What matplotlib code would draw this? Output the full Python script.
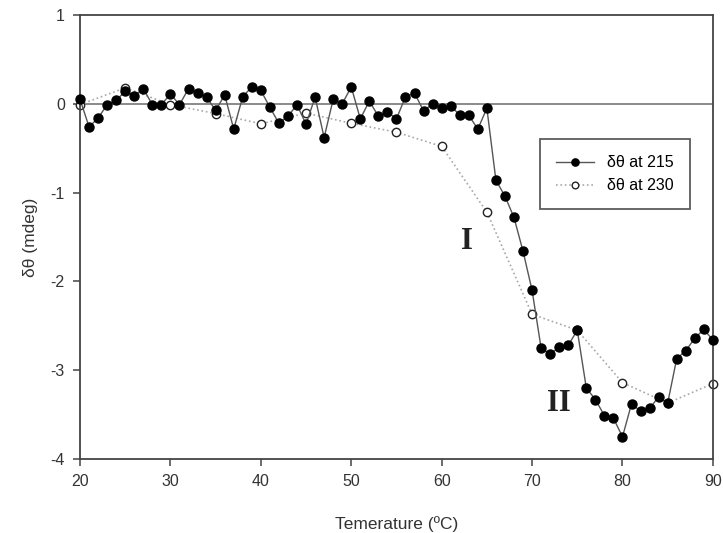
import matplotlib
matplotlib.use("Agg")
import matplotlib.pyplot as plt

plt.rcParams['font.family'] = ['Liberation Sans', 'DejaVu Sans']
plt.rcParams['axes.unicode_minus'] = False

# filled circles: delta theta at 215 nm, every 1 degC
temp_215 = list(range(20, 91))
dtheta_215 = [0.05, -0.26, -0.16, -0.01, 0.04, 0.14, 0.09, 0.17, -0.01, -0.01,
              0.11, -0.01, 0.17, 0.12, 0.075, -0.075, 0.10, -0.285, 0.08, 0.19,
              0.15, -0.04, -0.22, -0.14, -0.01, -0.23, 0.075, -0.38, 0.05, 0.0,
              0.19, -0.17, 0.03, -0.14, -0.09, -0.17, 0.08, 0.12, -0.08, 0.0,
              -0.05, -0.02, -0.13, -0.13, -0.285, -0.05, -0.86, -1.04, -1.28, -1.66,
              -2.10, -2.75, -2.82, -2.74, -2.72, -2.55, -3.20, -3.33, -3.51, -3.54,
              -3.75, -3.38, -3.46, -3.43, -3.30, -3.37, -2.87, -2.78, -2.64, -2.54,
              -2.66]

# open circles: delta theta at 230 nm, every 5 degC
temp_230 = [20, 25, 30, 35, 40, 45, 50, 55, 60, 65, 70, 75, 80, 85, 90]
dtheta_230 = [-0.01, 0.18, -0.01, -0.11, -0.225, -0.105, -0.22, -0.32, -0.48,
              -1.22, -2.37, -2.55, -3.14, -3.37, -3.15]

x_ticks = [20, 30, 40, 50, 60, 70, 80, 90]
y_ticks = [-4, -3, -2, -1, 0, 1]

fig = plt.figure(figsize=(7.23, 5.33), dpi=100)
ax = fig.add_axes([0.1107, 0.1388, 0.8753, 0.8331])

ax.axhline(0, color="#8a8a8a", lw=1.4, zorder=1)

ax.plot(temp_230, dtheta_230, linestyle=":", color="#a8a8a8", lw=1.2,
        marker="o", ms=6, mfc="white", mec="#222222", mew=1.0,
        label="δθ at 230", zorder=2, clip_on=False)
ax.plot(temp_215, dtheta_215, linestyle="-", color="#555555", lw=1.0,
        marker="o", ms=6.5, mfc="black", mec="black",
        label="δθ at 215", zorder=3, clip_on=False)

ax.set_xlim(20, 90)
ax.set_ylim(-4, 1)
ax.set_xticks(x_ticks)
ax.set_yticks(y_ticks)
ax.tick_params(direction="out", length=5, width=1.1, color="#444444",
               labelsize=11.5, labelcolor="#333333", pad=6)
for s in ax.spines.values():
    s.set_color("#444444")
    s.set_linewidth(1.3)

ax.set_xlabel("Temerature (ºC)", fontsize=12.5, color="#333333", labelpad=19)
ax.set_ylabel("δθ (mdeg)", fontsize=12.5, color="#333333", labelpad=9)

handles, labels = ax.get_legend_handles_labels()
leg = ax.legend(handles[::-1], labels[::-1], loc="upper left",
                bbox_to_anchor=(0.727, 0.72), fontsize=11.5, frameon=True,
                fancybox=False, edgecolor="#333333", handlelength=2.4,
                borderpad=1.0, labelspacing=0.5, markerscale=0.8,
                borderaxespad=0)
leg.get_frame().set_linewidth(1.3)

ax.text(62.8, -1.55, "I", fontsize=22, fontweight="bold", family="Liberation Serif",
        color="#222222", ha="center", va="center")
ax.text(73.0, -3.37, "II", fontsize=22, fontweight="bold", family="Liberation Serif",
        color="#222222", ha="center", va="center")

fig.savefig("out.png", dpi=100)
